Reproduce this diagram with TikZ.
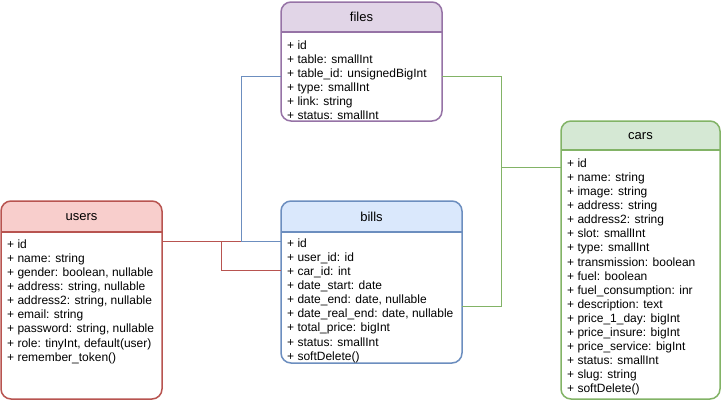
\documentclass[tikz,border=0pt]{standalone}
\usepackage{fontspec}
\setmainfont{Liberation Sans}
\definecolor{purpleline}{HTML}{9673A6}
\definecolor{purplefill}{HTML}{E1D5E7}
\definecolor{redline}{HTML}{B85450}
\definecolor{redfill}{HTML}{F8CECC}
\definecolor{blueline}{HTML}{6C8EBF}
\definecolor{bluefill}{HTML}{DAE8FC}
\definecolor{greenline}{HTML}{82B366}
\definecolor{greenfill}{HTML}{D5E8D4}
\begin{document}
\begin{tikzpicture}[x=1pt, y=-1pt,
  % table box: stroke colour, header fill, header height
  tbl/.style n args={3}{draw=#1, fill=white, line width=1.5pt, rounded corners=10pt,
    outer sep=0pt, inner sep=0pt, anchor=north west,
    path picture={
      \fill[#2, sharp corners] (path picture bounding box.north west)
        rectangle ([yshift=-#3pt]path picture bounding box.north east);
      \draw[#1, line width=1.5pt, sharp corners]
        ([yshift=-#3pt]path picture bounding box.north west)
        -- ([yshift=-#3pt]path picture bounding box.north east);}},
  title/.style={font=\fontsize{13}{15}\selectfont, inner sep=0pt, text=black},
  field/.style={font=\fontsize{12}{14}\selectfont, inner sep=0pt, anchor=west,
    text height=8.6pt, text depth=0pt, text=black},
  link/.style={draw=#1, line width=1pt}
]
\useasboundingbox (0,0) rectangle (722,402);

% table boxes
\node[tbl={purpleline}{purplefill}{30}, minimum width=161pt, minimum height=119pt] (files) at (281,2) {};
\node[tbl={redline}{redfill}{31}, minimum width=161pt, minimum height=198pt] (users) at (1,201) {};
\node[tbl={blueline}{bluefill}{31}, minimum width=181pt, minimum height=162pt] (bills) at (281,201) {};
\node[tbl={greenline}{greenfill}{29}, minimum width=159pt, minimum height=278pt] (cars) at (561,121) {};

% relations between the tables
\draw[link=redline] ([yshift=-40pt]users.north east) -- ([yshift=-40pt]bills.north west);
\draw[link=redline] ([yshift=-40pt]users.north east) -- ++(59,0) |- ([yshift=-69pt]bills.north west);
\draw[link=blueline] ([yshift=-74pt]files.north west) -- ++(-40,0) |- ([yshift=-40pt]bills.north west);
\draw[link=greenline] ([yshift=-74pt]files.north east) -- ++(59,0) |- ([yshift=-46pt]cars.north west);
\draw[link=greenline] ([yshift=-105pt]bills.north east) -- ++(39,0) |- ([yshift=-46pt]cars.north west);

% titles
\node[title] (files-title) at (361.5,17) {files};
\node[title] (users-title) at (81.5,217) {users};
\node[title] (bills-title) at (371.5,217) {bills};
\node[title] (cars-title) at (640.5,136) {cars};

% fields
\foreach \txt [count=\i from 0] in {{+ id},{+ table: smallInt},{+ table\_id: unsignedBigInt},
    {+ type: smallInt},{+ link: string},{+ status: smallInt}}
  \node[field] (files-f\i) at (287,{45+14.1*\i}) {\txt};

\foreach \txt [count=\i from 0] in {{+ id},{+ name: string},{+ gender: boolean, nullable},
    {+ address: string, nullable},{+ address2: string, nullable},{+ email: string},
    {+ password: string, nullable},{+ role: tinyInt, default(user)},{+ remember\_token()}}
  \node[field] (users-f\i) at (7,{244+14.1*\i}) {\txt};

\foreach \txt [count=\i from 0] in {{+ id},{+ user\_id: id},{+ car\_id: int},
    {+ date\_start: date},{+ date\_end: date, nullable},{+ date\_real\_end: date, nullable},
    {+ total\_price: bigInt},{+ status: smallInt},{+ softDelete()}}
  \node[field] (bills-f\i) at (287,{243+14.1*\i}) {\txt};

\foreach \txt [count=\i from 0] in {{+ id},{+ name: string},{+ image: string},
    {+ address: string},{+ address2: string},{+ slot: smallInt},{+ type: smallInt},
    {+ transmission: boolean},{+ fuel: boolean},{+ fuel\_consumption: inr},
    {+ description: text},{+ price\_1\_day: bigInt},{+ price\_insure: bigInt},
    {+ price\_service: bigInt},{+ status: smallInt},{+ slug: string},{+ softDelete()}}
  \node[field] (cars-f\i) at (567,{163+14.1*\i}) {\txt};
\end{tikzpicture}
\end{document}
